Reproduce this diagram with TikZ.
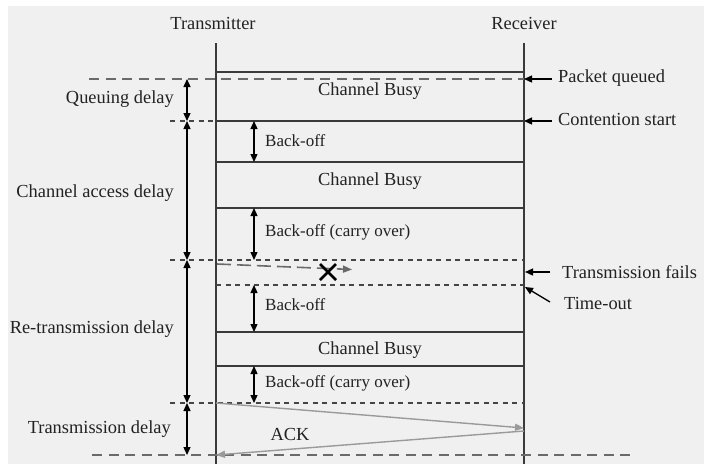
\documentclass[tikz,border=0pt]{standalone}
\usepackage{fontspec}
\setmainfont{Liberation Serif}
\usetikzlibrary{arrows.meta}
\definecolor{bgc}{HTML}{F0F0F0}
\definecolor{linec}{HTML}{3A3A3A}
\definecolor{dashc}{HTML}{6A6A6A}
\definecolor{sdashc}{HTML}{454545}
\definecolor{msgc}{HTML}{9A9A9A}
\definecolor{txtc}{HTML}{222222}
\tikzset{
  lbl/.style={inner sep=0pt, text=txtc, font=\fontsize{18.4}{22}\selectfont},
  slbl/.style={inner sep=0pt, text=txtc, font=\fontsize{17}{20}\selectfont},
  solidline/.style={draw=linec, line width=1.4pt},
  thickdash/.style={draw=dashc, line width=2.6pt, dash pattern=on 10pt off 6.5pt},
  thindash/.style={draw=sdashc, line width=1.4pt, dash pattern=on 5pt off 4.5pt},
  dblarrow/.style={draw=black, line width=1.3pt, {Triangle[length=8pt,width=7pt]}-{Triangle[length=8pt,width=7pt]}},
  ptarrow/.style={draw=black, line width=1.3pt, -{Triangle[length=8pt,width=7pt]}},
  msg/.style={draw=msgc, line width=1.4pt, -{Triangle[length=9pt,width=7pt]}},
  msgplain/.style={draw=msgc, line width=1.4pt},
}
\begin{document}
\begin{tikzpicture}[x=1pt,y=-1pt]
\useasboundingbox (0,0) rectangle (708,464);
\fill[white] (0,0) rectangle (708,464);
\fill[bgc] (8,6) rectangle (704,464);

% lifelines
\node[lbl] (tx) at (213,23) {Transmitter};
\node[lbl] (rx) at (524,23) {Receiver};
\coordinate (txtop) at (216,43);
\coordinate (txbot) at (216,464);
\coordinate (rxtop) at (524,43);
\coordinate (rxbot) at (524,464);
\draw[solidline] (txtop) -- (txbot);
\draw[solidline] (rxtop) -- (rxbot);

% horizontal levels
\coordinate (a1) at (216,72);   \coordinate (b1) at (524,72);
\coordinate (a2) at (216,121);  \coordinate (b2) at (524,121);
\coordinate (a3) at (216,162);  \coordinate (b3) at (524,162);
\coordinate (a4) at (216,208);  \coordinate (b4) at (524,208);
\coordinate (a5) at (216,332);  \coordinate (b5) at (524,332);
\coordinate (a6) at (216,366);  \coordinate (b6) at (524,366);
\draw[solidline] (a1) -- (b1);
\draw[solidline] (a2) -- (b2);
\draw[solidline] (a3) -- (b3);
\draw[solidline] (a4) -- (b4);
\draw[solidline] (a5) -- (b5);
\draw[solidline] (a6) -- (b6);

% dashed levels
\coordinate (q0) at (89,79);   \coordinate (q1) at (524,79);
\coordinate (c0) at (170,121);
\coordinate (f0) at (170,260); \coordinate (f1) at (524,260);
\coordinate (t0) at (216,285); \coordinate (t1) at (524,285);
\coordinate (r0) at (170,403); \coordinate (r1) at (524,403);
\coordinate (e0) at (92,455);  \coordinate (e1) at (632,455);
\draw[thickdash] (q0) -- (q1);
\draw[thindash] (c0) -- (a2);
\draw[thindash] (f0) -- (f1);
\draw[thindash] (t0) -- (t1);
\draw[thindash] (r0) -- (r1);
\draw[thickdash] (e0) -- (e1);

% channel busy labels
\node[lbl] (cb1) at (370,91) {Channel Busy};
\node[lbl] (cb2) at (370,181) {Channel Busy};
\node[lbl] (cb3) at (370,350) {Channel Busy};

% delay arrows (left)
\coordinate (d0) at (187,79);
\coordinate (d1) at (187,121);
\coordinate (d2) at (187,260);
\coordinate (d3) at (187,403);
\coordinate (d4) at (187,455);
\draw[dblarrow] (d0) -- (d1);
\draw[dblarrow] (d1) -- (d2);
\draw[dblarrow] (d2) -- (d3);
\draw[dblarrow] (d3) -- (d4);
\node[lbl, anchor=east] (ql) at (174,99) {Queuing delay};
\node[lbl, anchor=east] (cal) at (174,193) {Channel access delay};
\node[lbl, anchor=east] (rtl) at (174,329) {Re-transmission delay};
\node[lbl, anchor=east] (tdl) at (171,429) {Transmission delay};

% back-off arrows
\coordinate (k1) at (254,121); \coordinate (k2) at (254,162);
\coordinate (k3) at (254,208); \coordinate (k4) at (254,260);
\coordinate (k5) at (254,285); \coordinate (k6) at (254,332);
\coordinate (k7) at (254,366); \coordinate (k8) at (254,403);
\draw[dblarrow] (k1) -- (k2);
\draw[dblarrow] (k3) -- (k4);
\draw[dblarrow] (k5) -- (k6);
\draw[dblarrow] (k7) -- (k8);
\node[slbl, anchor=west] (bo1) at (265,141) {Back-off};
\node[slbl, anchor=west] (bo2) at (265,232) {Back-off (carry over)};
\node[slbl, anchor=west] (bo3) at (265,305) {Back-off};
\node[slbl, anchor=west] (bo4) at (265,383) {Back-off (carry over)};

% failed transmission
\coordinate (ft0) at (217,264);
\coordinate (ft1) at (352,269.5);
\draw[draw=dashc, line width=1.6pt, dash pattern=on 14pt off 6pt, -{Triangle[length=9pt,width=7pt]}] (ft0) -- (ft1);
\node[inner sep=0pt] (xm) at (328,272) {};
\draw[black, line width=2.6pt] (320,264) -- (336,280);
\draw[black, line width=2.6pt] (320,280) -- (336,264);

% right annotations
\coordinate (pq) at (552,79);
\coordinate (cs) at (552,121);
\coordinate (tf) at (550,272);
\coordinate (to) at (550,302);
\draw[ptarrow] (pq) -- (q1);
\draw[ptarrow] (cs) -- (b2);
\draw[ptarrow] (tf) -- (525,272);
\draw[ptarrow] (to) -- (525,287);
\node[lbl, anchor=west] (pql) at (558,78) {Packet queued};
\node[lbl, anchor=west] (csl) at (558,119) {Contention start};
\node[lbl, anchor=west] (tfl) at (562,272) {Transmission fails};
\node[lbl, anchor=west] (tol) at (564,303) {Time-out};

% successful transmission and ACK
\coordinate (m0) at (216,403);
\coordinate (m1) at (524,428);
\coordinate (m2) at (524,431);
\coordinate (m3) at (216,455);
\draw[msg] (m0) -- (m1);
\draw[msg] (m2) -- (m3);
\node[lbl] (ack) at (290,434) {ACK};
\end{tikzpicture}
\end{document}
